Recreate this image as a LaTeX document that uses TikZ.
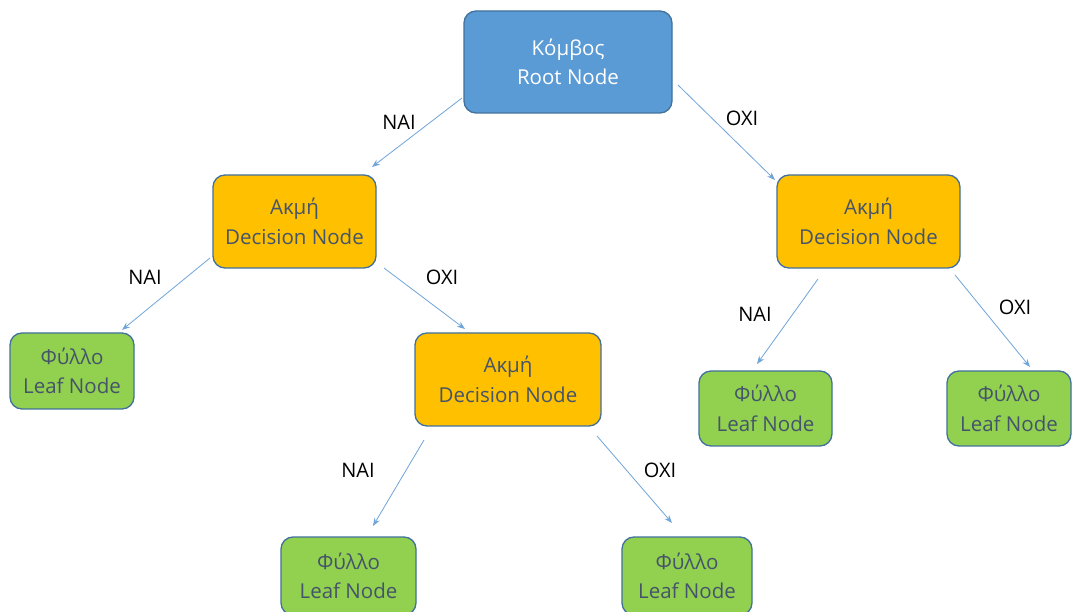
\documentclass[tikz,border=0pt]{standalone}
\usepackage{fontspec}
\setmainfont{Open Sans}
\usetikzlibrary{arrows.meta}
\definecolor{rootfill}{HTML}{5B9BD5}
\definecolor{boxline}{HTML}{41719C}
\definecolor{decfill}{HTML}{FFC000}
\definecolor{leaffill}{HTML}{92D050}
\definecolor{boxtext}{HTML}{44546A}
\definecolor{edgecol}{HTML}{6FA5DA}
\begin{document}
\begin{tikzpicture}[x=1pt,y=-1pt,
  box/.style={draw=boxline, line width=1.3pt, rounded corners=12pt, align=center,
    inner sep=0pt, font=\fontsize{20.5}{29.5}\selectfont, text=boxtext},
  rootbox/.style={box, fill=rootfill, text=white},
  decbox/.style={box, fill=decfill},
  leafbox/.style={box, fill=leaffill},
  edge/.style={draw=edgecol, line width=0.8pt, -{Stealth[length=8pt,width=6pt]}},
  lbl/.style={font=\fontsize{20}{22}\selectfont, text=black, inner sep=0pt}]
\path[use as bounding box, fill=white] (0,0) rectangle (1072,612);
% nodes
\node[rootbox, minimum width=208pt, minimum height=102pt] (root) at (568,62) {Κόμβος\\Root Node};
\node[decbox, minimum width=163pt, minimum height=93pt] (dl) at (294.5,221.5) {Ακμή\\Decision Node};
\node[decbox, minimum width=183pt, minimum height=93pt] (dr) at (868.5,221.5) {Ακμή\\Decision Node};
\node[decbox, minimum width=186pt, minimum height=93pt] (dm) at (508,379.5) {Ακμή\\Decision Node};
\node[leafbox, minimum width=124pt, minimum height=76pt] (l1) at (72,371) {Φύλλο\\Leaf Node};
\node[leafbox, minimum width=133pt, minimum height=75pt] (l2) at (765.5,408.5) {Φύλλο\\Leaf Node};
\node[leafbox, minimum width=124pt, minimum height=75pt] (l3) at (1009,408.5) {Φύλλο\\Leaf Node};
\node[leafbox, minimum width=135pt, minimum height=78pt] (l4) at (348.5,576) {Φύλλο\\Leaf Node};
\node[leafbox, minimum width=130pt, minimum height=78pt] (l5) at (687,576) {Φύλλο\\Leaf Node};
% connector ends
\coordinate (a1) at (462,98);  \coordinate (b1) at (372,167);
\coordinate (a2) at (678,85);  \coordinate (b2) at (775,180);
\coordinate (a3) at (210,258); \coordinate (b3) at (122,330);
\coordinate (a4) at (384,268); \coordinate (b4) at (465,329);
\coordinate (a5) at (818,279); \coordinate (b5) at (757,364);
\coordinate (a6) at (955,275); \coordinate (b6) at (1030,367);
\coordinate (a7) at (424,440); \coordinate (b7) at (373,526);
\coordinate (a8) at (597,436); \coordinate (b8) at (672,523);
\draw[edge] (a1) -- (b1);
\draw[edge] (a2) -- (b2);
\draw[edge] (a3) -- (b3);
\draw[edge] (a4) -- (b4);
\draw[edge] (a5) -- (b5);
\draw[edge] (a6) -- (b6);
\draw[edge] (a7) -- (b7);
\draw[edge] (a8) -- (b8);
% labels
\node[lbl] (t1) at (399,122) {NAI};
\node[lbl] (t2) at (742,118) {OXI};
\node[lbl] (t3) at (145,277) {NAI};
\node[lbl] (t4) at (442,277) {OXI};
\node[lbl] (t5) at (755,314) {NAI};
\node[lbl] (t6) at (1015,307) {OXI};
\node[lbl] (t7) at (358,470) {NAI};
\node[lbl] (t8) at (660,470) {OXI};
\end{tikzpicture}
\end{document}
